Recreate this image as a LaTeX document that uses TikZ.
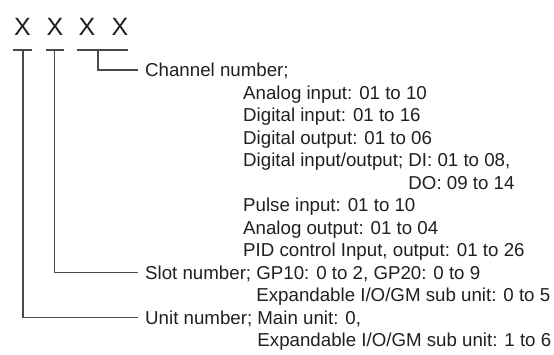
\documentclass[tikz,border=0pt]{standalone}
\usepackage{fontspec}
\setmainfont{Liberation Sans}
\definecolor{txt}{HTML}{231F20}
\definecolor{ln}{HTML}{4A4A4A}
\begin{document}
\begin{tikzpicture}[x=1pt,y=-1pt,
  lbl/.style={anchor=base west,inner sep=0pt,text=txt,font=\fontsize{18.7}{22.5}\selectfont},
  bigx/.style={anchor=base,inner sep=0pt,text=txt,font=\fontsize{25}{30}\selectfont},
  conn/.style={draw=ln,line width=1.2pt}]
\useasboundingbox (0,0) rectangle (554,354);
% digits
\node[bigx] (x1) at (22.5,35) {X};
\node[bigx] (x2) at (55,35) {X};
\node[bigx] (x3) at (87,35) {X};
\node[bigx] (x4) at (120,35) {X};
% bracket coordinates
\coordinate (u1) at (13,50); \coordinate (u2) at (32,50);
\coordinate (s1) at (46,50); \coordinate (s2) at (64,50);
\coordinate (c1) at (77,50); \coordinate (c2) at (128,50);
\coordinate (ut) at (23,50); \coordinate (st) at (54.5,50); \coordinate (ct) at (98,50);
\coordinate (ce) at (138,70); \coordinate (se) at (138,272.5); \coordinate (ue) at (138,317.5);
\draw[conn] (u1) -- (u2);
\draw[conn] (s1) -- (s2);
\draw[conn] (c1) -- (c2);
\draw[conn] (ct) |- (ce);
\draw[conn] (st) |- (se);
\draw[conn] (ut) |- (ue);
% texts (baseline = centre + 6.7)
\node[lbl] (chan) at (145,76.7) {Channel number;};
\node[lbl] (ai) at (243,99.2) {Analog input: 01 to 10};
\node[lbl] (di) at (243,121.7) {Digital input: 01 to 16};
\node[lbl] (do) at (243,144.2) {Digital output: 01 to 06};
\node[lbl] (dio) at (243,166.7) {Digital input/output; DI: 01 to 08,};
\node[lbl] (dio2) at (243,189.2) {\phantom{Digital input/output; }DO: 09 to 14};
\node[lbl] (pi) at (243,211.7) {Pulse input: 01 to 10};
\node[lbl] (ao) at (243,234.2) {Analog output: 01 to 04};
\node[lbl] (pid) at (243,256.7) {PID control Input, output: 01 to 26};
\node[lbl] (slot) at (145,279.2) {Slot number; GP10: 0 to 2, GP20: 0 to 9};
\node[lbl] (slot2) at (145,301.7) {\phantom{Slot number; }Expandable I/O/GM sub unit: 0 to 5};
\node[lbl] (unit) at (145,324.2) {Unit number; Main unit: 0,};
\node[lbl] (unit2) at (145,346.7) {\phantom{Unit number; }Expandable I/O/GM sub unit: 1 to 6};
\end{tikzpicture}
\end{document}
